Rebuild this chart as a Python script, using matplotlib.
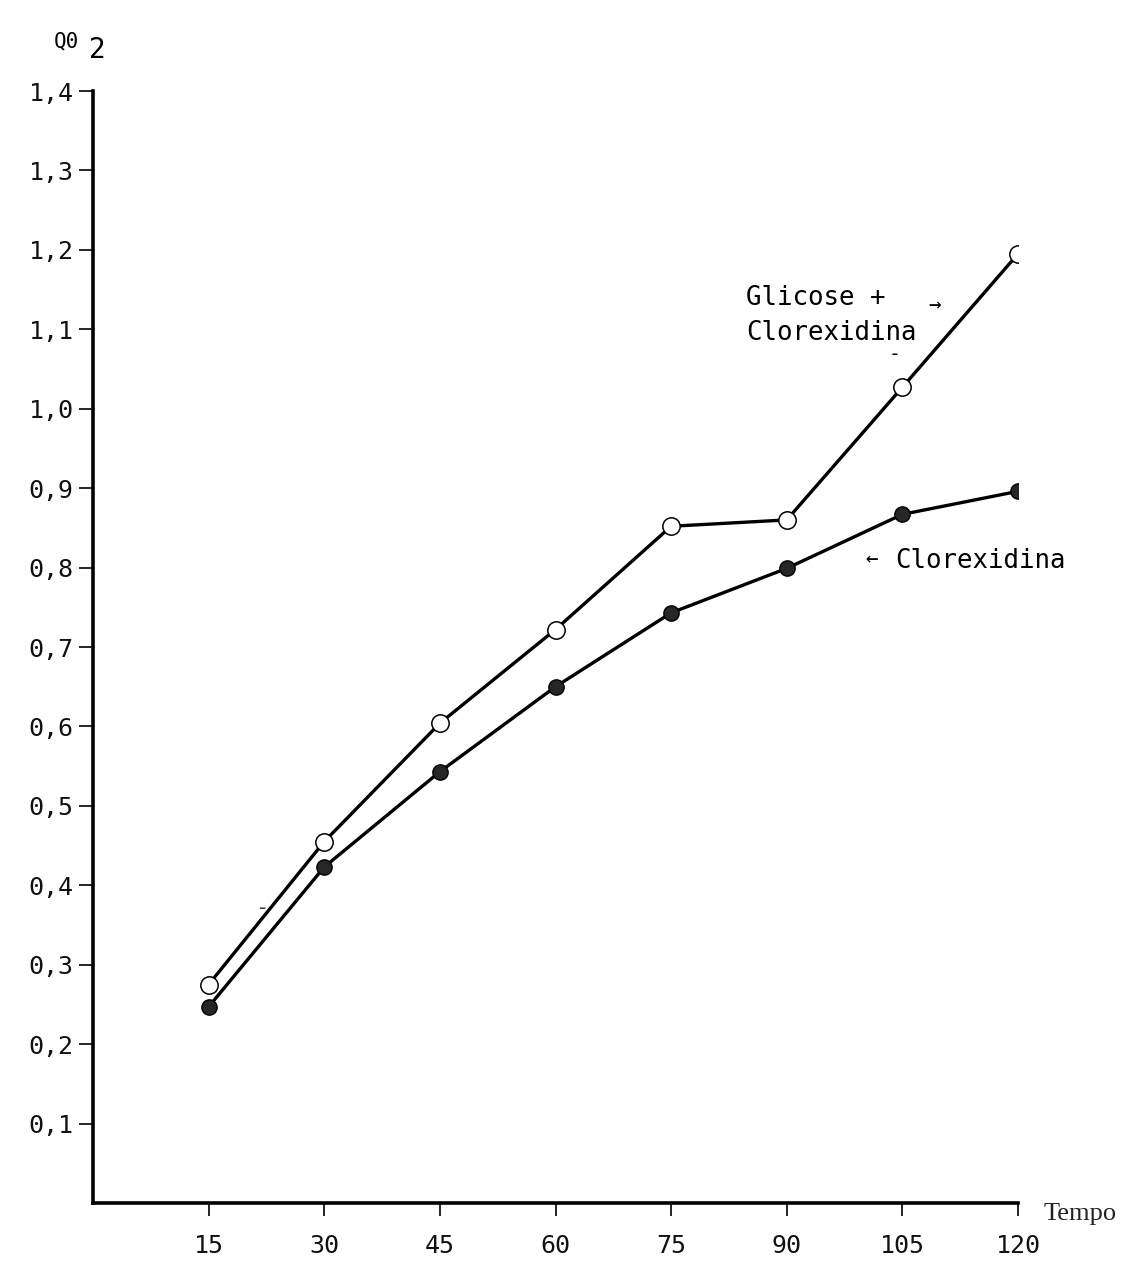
import matplotlib
matplotlib.use("Agg")
import matplotlib.pyplot as plt

# ---- data ----
tempo = [15, 30, 45, 60, 75, 90, 105, 120]
glicose_clorexidina = [0.275, 0.455, 0.604, 0.722, 0.852, 0.860, 1.027, 1.195]
clorexidina = [0.247, 0.423, 0.543, 0.650, 0.743, 0.799, 0.867, 0.896]
y_ticks = [0.1, 0.2, 0.3, 0.4, 0.5, 0.6, 0.7, 0.8, 0.9, 1.0, 1.1, 1.2, 1.3, 1.4]
y_tick_labels = ["0,1", "0,2", "0,3", "0,4", "0,5", "0,6", "0,7", "0,8", "0,9",
                 "1,0", "1,1", "1,2", "1,3", "1,4"]
x_tick_labels = ["15", "30", "45", "60", "75", "90", "105", "120"]

W, H = 1144, 1276
fig = plt.figure(figsize=(W / 100, H / 100), dpi=100)

def fx(px):
    return px / W

def fy(py):
    return 1 - py / H

left, right, top, bottom = 93, 1018, 91, 1203
ax = fig.add_axes([fx(left), fy(bottom), fx(right - left), (bottom - top) / H])

mono = "DejaVu Sans Mono"

ax.plot(tempo, glicose_clorexidina, color="black", lw=2.4, marker="o",
        markersize=12.5, markerfacecolor="white", markeredgecolor="black",
        markeredgewidth=1.1, zorder=3)
ax.plot(tempo, clorexidina, color="black", lw=2.4, marker="o",
        markersize=11, markerfacecolor="#262626", markeredgecolor="black",
        markeredgewidth=1.0, zorder=3)

ax.set_xlim(0, 120)
ax.set_ylim(0, 1.4)
for s in ["top", "right"]:
    ax.spines[s].set_visible(False)
for s in ["left", "bottom"]:
    ax.spines[s].set_linewidth(2.6)

ax.set_yticks(y_ticks)
ax.set_yticklabels(y_tick_labels, fontfamily=mono, fontsize=18, color="#111111")
ax.set_xticks(tempo)
ax.set_xticklabels(x_tick_labels, fontfamily=mono, fontsize=18, color="#111111")
ax.tick_params(axis="y", direction="out", length=10, width=1.2, pad=4)
ax.tick_params(axis="x", direction="out", length=9, width=1.2, pad=13)

# axis titles
fig.text(fx(54), fy(47), "Q0", fontfamily=mono, fontsize=15, va="baseline", ha="left")
fig.text(fx(89), fy(58), "2", fontfamily=mono, fontsize=20, va="baseline", ha="left")
fig.text(fx(1044), fy(1220), "Tempo", fontfamily="Liberation Serif", fontsize=19,
         va="baseline", ha="left", color="#222222")

# annotations
fig.text(fx(746), fy(305), "Glicose +", fontfamily=mono, fontsize=18.5,
         va="baseline", ha="left")
fig.text(fx(746), fy(340), "Clorexidina", fontfamily=mono, fontsize=18.5,
         va="baseline", ha="left")
fig.text(fx(935), fy(304), "\u2192", fontfamily=mono, fontsize=15,
         va="center", ha="center")
fig.text(fx(894), fy(354), "-", fontfamily=mono, fontsize=14,
         va="center", ha="center")
fig.text(fx(872), fy(558), "\u2190", fontfamily=mono, fontsize=15,
         va="center", ha="center")
fig.text(fx(895), fy(568), "Clorexidina", fontfamily=mono, fontsize=18.5,
         va="baseline", ha="left")
fig.text(fx(262), fy(908), "-", fontfamily=mono, fontsize=16,
         va="center", ha="center", color="#444444")

fig.savefig("out.png", dpi=100)
